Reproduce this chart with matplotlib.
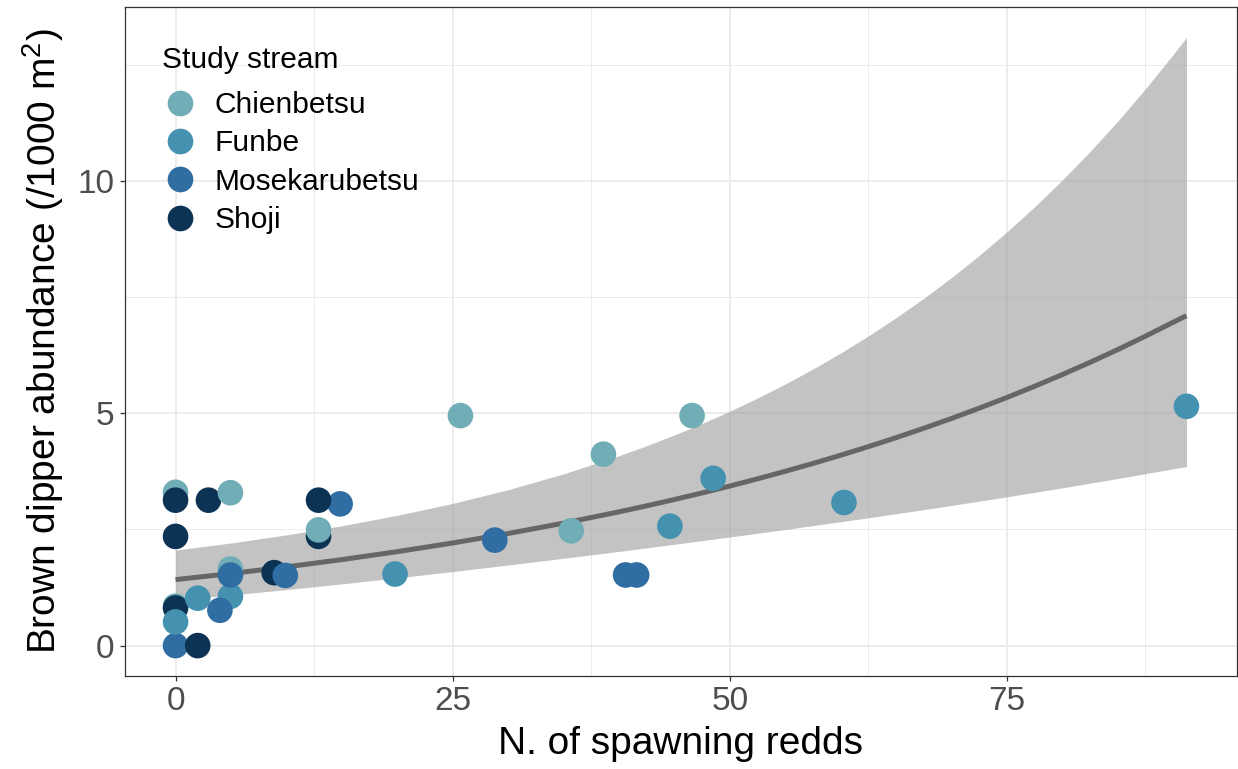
# -*- coding: utf-8 -*-
#######################################################################
# Imports :
import matplotlib
matplotlib.use("Agg")
from matplotlib import pyplot as plt
from matplotlib.lines import Line2D

#######################################################################
# Data read from the reference figure :

# one row per survey (drawing order kept, later rows sit on top)
stream = ["Chienbetsu", "Chienbetsu", "Chienbetsu", "Chienbetsu",
          "Chienbetsu", "Chienbetsu", "Chienbetsu",
          "Mosekarubetsu", "Mosekarubetsu",
          "Shoji", "Shoji", "Shoji", "Shoji", "Shoji", "Shoji", "Shoji",
          "Shoji",
          "Funbe", "Funbe", "Funbe", "Funbe", "Funbe", "Funbe", "Funbe",
          "Funbe",
          "Mosekarubetsu", "Mosekarubetsu", "Mosekarubetsu",
          "Mosekarubetsu", "Mosekarubetsu", "Mosekarubetsu",
          "Chienbetsu", "Chienbetsu"]
redds = [0, 4.95, 0, 25.7, 38.6, 46.6, 35.7,
         0, 14.85,
         0, 2.97, 0, 0, 12.9, 8.9, 12.9, 2.0,
         0, 4.95, 2.0, 19.8, 44.6, 48.5, 60.3, 91.2,
         4.0, 4.95, 9.9, 28.8, 40.6, 41.6,
         12.9, 4.95]
abundance = [3.30, 1.65, 0.85, 4.95, 4.12, 4.95, 2.47,
             0.0, 3.05,
             3.13, 3.13, 2.35, 0.81, 2.35, 1.57, 3.13, 0.0,
             0.51, 1.06, 1.02, 1.54, 2.57, 3.60, 3.08, 5.15,
             0.76, 1.52, 1.51, 2.27, 1.52, 1.52,
             2.49, 3.29]

# fitted curve and 95% band, read along x
fit_x = [0, 5, 10, 15, 20, 25, 30, 35, 40, 42.5, 45, 47.5, 50, 52.5,
         55, 57.5, 60, 62.5, 65, 67.5, 70, 72.5, 75, 77.5, 80, 82.5, 85,
         87.5, 90, 91.2]
fit_y = [1.420, 1.551, 1.694, 1.851, 2.022, 2.208, 2.412, 2.635, 2.878,
         3.008, 3.144, 3.285, 3.434, 3.589, 3.751, 3.920, 4.097, 4.282,
         4.475, 4.677, 4.888, 5.109, 5.340, 5.581, 5.833, 6.096, 6.371,
         6.659, 6.959, 7.100]
fit_upper = [2.056, 2.209, 2.382, 2.579, 2.804, 3.060, 3.356, 3.696,
             4.086, 4.302, 4.534, 4.780, 5.045, 5.328, 5.630, 5.953,
             6.297, 6.665, 7.057, 7.475, 7.921, 8.397, 8.904, 9.445,
             10.021, 10.634, 11.286, 11.984, 12.724, 13.09]
fit_lower = [0.981, 1.089, 1.205, 1.328, 1.458, 1.593, 1.734, 1.879,
             2.027, 2.103, 2.180, 2.258, 2.337, 2.418, 2.499, 2.582,
             2.666, 2.751, 2.838, 2.926, 3.016, 3.108, 3.202, 3.298,
             3.395, 3.495, 3.596, 3.700, 3.806, 3.85]

streams = ["Chienbetsu", "Funbe", "Mosekarubetsu", "Shoji"]
palette = {"Chienbetsu": "#71ADB6",
           "Funbe": "#4592B0",
           "Mosekarubetsu": "#306DA2",
           "Shoji": "#0D3354"}

x_ticks = [0, 25, 50, 75]
y_ticks = [0, 5, 10]


# ------------------------------------------------------------------- #
def expand(values: list, mult: float = 0.05) -> tuple:
    """
    ggplot-like 5% expansion of a data range.
    """
    lo, hi = min(values), max(values)
    pad = (hi - lo) * mult
    return (lo - pad, hi + pad)


# ------------------------------------------------------------------- #
def main() -> int:
    plt.rcParams["font.family"] = ["Liberation Sans", "DejaVu Sans"]
    plt.rcParams["mathtext.fontset"] = "custom"
    plt.rcParams["mathtext.rm"] = "Liberation Sans"
    plt.rcParams["mathtext.it"] = "Liberation Sans:italic"

    fig = plt.figure(figsize=(12.38, 7.69), dpi=100)
    ax = fig.add_axes([125 / 1238, 1 - 676 / 769, 1112 / 1238, 669 / 769])

    # grid (major + minor) like theme_bw
    ax.set_axisbelow(True)
    ax.set_xticks(x_ticks)
    ax.set_yticks(y_ticks)
    ax.set_xticks([12.5, 37.5, 62.5, 87.5], minor=True)
    ax.set_yticks([2.5, 7.5, 12.5], minor=True)
    ax.grid(which="major", color="#EBEBEB", linewidth=1.3)
    ax.grid(which="minor", color="#EBEBEB", linewidth=0.7)
    ax.tick_params(which="minor", length=0)

    # confidence band + fitted line
    ax.fill_between(fit_x, fit_lower, fit_upper, color="#999999",
                    alpha=0.58, linewidth=0, zorder=2)
    ax.plot(fit_x, fit_y, color="#666666", linewidth=3.6,
            solid_capstyle="butt", zorder=3)

    # points
    colours = [palette[s] for s in stream]
    ax.scatter(redds, abundance, s=340, c=colours, linewidths=0,
               zorder=4)

    # limits
    ax.set_xlim(expand(redds + fit_x))
    ax.set_ylim(expand(abundance + fit_upper + fit_lower))

    # axes style
    for side in ax.spines.values():
        side.set_color("#333333")
        side.set_linewidth(0.9)
    ax.tick_params(which="major", length=3.5, width=0.9, color="#333333",
                   labelsize=24, labelcolor="#4D4D4D", pad=4)

    ax.set_xlabel("N. of spawning redds", fontsize=28, labelpad=6)
    ax.set_ylabel(r"Brown dipper abundance (/1000 m$^2$)", fontsize=28,
                  labelpad=8)

    # legend (title written apart to keep ggplot spacing)
    ax.text(0.0333, 0.9208, "Study stream", transform=ax.transAxes,
            fontsize=21.5, ha="left", va="center", zorder=6)
    handles = [Line2D([0], [0], marker="o", linestyle="none",
                      markersize=18.5, markeredgewidth=0,
                      color=palette[s]) for s in streams]
    ax.legend(handles, streams, loc="upper left",
              bbox_to_anchor=(0.036, 0.8744), frameon=False,
              fontsize=21.5, handlelength=1.0, handletextpad=0.67,
              labelspacing=0.35, borderpad=0, borderaxespad=0)

    fig.savefig("out.png", dpi=100)
    return (0)


#######################################################################
if __name__ == "__main__":
    main()
